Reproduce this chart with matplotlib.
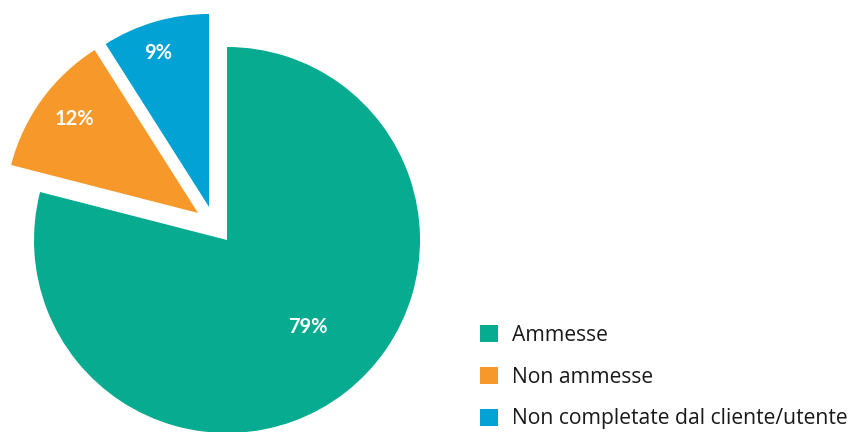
import matplotlib
matplotlib.use("Agg")
import matplotlib.pyplot as plt
from matplotlib.patches import Patch

categories = ["Ammesse", "Non ammesse", "Non completate dal cliente/utente"]
values = [79, 12, 9]
labels = ["79%", "12%", "9%"]
colors = ["#07AB8F", "#F7992A", "#02A3D4"]

# style: per-wedge offsets and label anchor positions (data units)
offsets = [(0.0, 0.0), (-0.150, 0.140), (-0.093, 0.171)]
label_pos = [(0.420, -0.451), (-0.788, 0.627), (-0.358, 0.969)]

W, H = 855, 432
fig = plt.figure(figsize=(W / 100, H / 100), dpi=100)
scale = 193.0
cx, cy = 227.0, 432 - 240.0
xlim = (-1.15, 1.15)
ylim = (-0.99, 1.22)
left = cx + xlim[0] * scale
bottom = cy + ylim[0] * scale
ax = fig.add_axes([left / W, bottom / H, (xlim[1] - xlim[0]) * scale / W,
                   (ylim[1] - ylim[0]) * scale / H])

wedges, _ = ax.pie(values, colors=colors, startangle=90, counterclock=False,
                   wedgeprops=dict(linewidth=0))
for w, off, lab, pos in zip(wedges, offsets, labels, label_pos):
    w.set_center(off)
    ax.text(pos[0], pos[1], lab, ha="center", va="center", color="white",
            fontsize=14.5, fontweight="bold", family=["Lato", "DejaVu Sans"])
ax.set_aspect("auto")
ax.set_xlim(*xlim)
ax.set_ylim(*ylim)
ax.axis("off")

handles = [Patch(facecolor=c, edgecolor="none") for c in colors]
fig.legend(handles, categories, loc="upper left",
           bbox_to_anchor=(480 / W, 1 - 325 / H), frameon=False,
           borderpad=0, borderaxespad=0, handlelength=0.86, handleheight=0.86,
           handletextpad=0.67, labelspacing=0.98,
           prop=dict(family=["Open Sans", "DejaVu Sans"], size=15.2),
           labelcolor="#1a1a1a")

fig.savefig("out.png", dpi=100)
